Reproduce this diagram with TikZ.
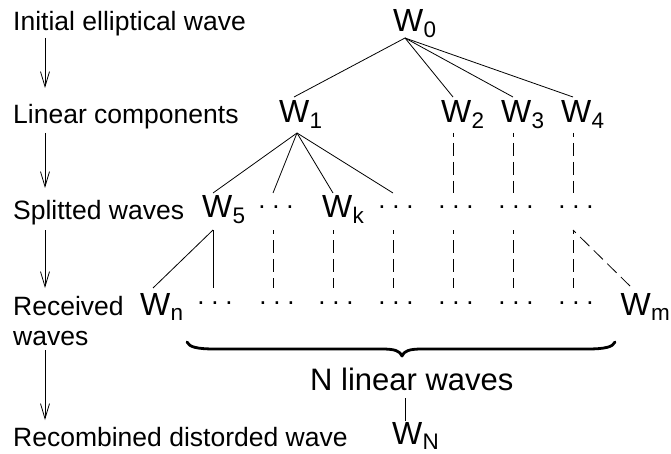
\documentclass[tikz,border=0pt]{standalone}
\usepackage{fontspec}
\setmainfont{Liberation Sans}
\usetikzlibrary{arrows.meta}
\newcommand\Wlab[1]{W\kern0.3pt\raisebox{-5.5pt}{\fontsize{22.5}{22.5}\selectfont #1}}
\newcommand\threedots{.\kern6.8pt.\kern6.8pt.}
\begin{document}
\begin{tikzpicture}[x=1pt,y=-1pt,
  side/.style={font=\fontsize{26.5}{30}\selectfont, anchor=base west, inner sep=0pt},
  wl/.style={font=\fontsize{32}{32}\selectfont, anchor=base west, inner sep=0pt},
  nl/.style={font=\fontsize{31}{31}\selectfont, anchor=base west, inner sep=0pt},
  dts/.style={font=\fontsize{26}{26}\selectfont, anchor=base, inner sep=0pt},
  ln/.style={line width=0.8pt},
  dl/.style={line width=0.8pt, dash pattern=on 13pt off 6pt, dash phase=9pt},
  flow/.style={line width=0.8pt, -{Straight Barb[length=15pt,width=9pt]}},
  bracestyle/.style={line width=2.8pt, line cap=round, line join=round}]
\useasboundingbox (0,0) rectangle (671,454);
% side labels
\node[side] (s1) at (13,31) {Initial elliptical wave};
\node[side] (s2) at (13,124) {Linear components};
\node[side] (s3) at (13,219) {Splitted waves};
\node[side] (s4) at (13,315) {Received};
\node[side] (s4b) at (13,345) {waves};
\node[side] (s5) at (13,446) {Recombined distorded wave};
\coordinate (a1t) at (45,38);  \coordinate (a1b) at (45,88);
\coordinate (a2t) at (45,133); \coordinate (a2b) at (45,188);
\coordinate (a3t) at (45,230); \coordinate (a3b) at (45,288);
\coordinate (a4t) at (45,350); \coordinate (a4b) at (45,420);
\draw[flow] (a1t) -- (a1b);
\draw[flow] (a2t) -- (a2b);
\draw[flow] (a3t) -- (a3b);
\draw[flow] (a4t) -- (a4b);
% W nodes
\node[wl] (w0) at (393,32) {\Wlab{0}};
\node[wl] (w1) at (279,123) {\Wlab{1}};
\node[wl] (w2) at (441,123) {\Wlab{2}};
\node[wl] (w3) at (501,123) {\Wlab{3}};
\node[wl] (w4) at (561,123) {\Wlab{4}};
\node[wl] (w5) at (202,218) {\Wlab{5}};
\node[wl] (wk) at (322,218) {\Wlab{k}};
\node[wl] (wn) at (140,315) {\Wlab{n}};
\node[wl] (wm) at (620.5,315) {\Wlab{m}};
\node[wl] (wN) at (392,444) {\Wlab{N}};
% dots row 3
\node[dts] (d31) at (276,208.5) {\threedots};
\node[dts] (d32) at (396,208.5) {\threedots};
\node[dts] (d33) at (456,208.5) {\threedots};
\node[dts] (d34) at (516,208.5) {\threedots};
\node[dts] (d35) at (576,208.5) {\threedots};
% dots row 4
\node[dts] (d41) at (215,304.5) {\threedots};
\node[dts] (d42) at (277,304.5) {\threedots};
\node[dts] (d43) at (336,304.5) {\threedots};
\node[dts] (d44) at (396,304.5) {\threedots};
\node[dts] (d45) at (456,304.5) {\threedots};
\node[dts] (d46) at (516,304.5) {\threedots};
\node[dts] (d47) at (576,304.5) {\threedots};
% junction coordinates
\coordinate (w0b) at (405,38);
\coordinate (w1t) at (294,97);  \coordinate (w1b) at (297,133);
\coordinate (w2t) at (453,97);  \coordinate (w2b) at (453,133);
\coordinate (w3t) at (513,97);  \coordinate (w3b) at (513,133);
\coordinate (w4t) at (573,97);  \coordinate (w4b) at (573,133);
\coordinate (w5t) at (213,193); \coordinate (w5b) at (213,230);
\coordinate (d31t) at (273,193); \coordinate (d31b) at (273,230);
\coordinate (wkt) at (333,193); \coordinate (wkb) at (333,230);
\coordinate (d32t) at (393,193); \coordinate (d32b) at (393,230);
\coordinate (d33t) at (453,193); \coordinate (d33b) at (453,230);
\coordinate (d34t) at (513,193); \coordinate (d34b) at (513,230);
\coordinate (d35t) at (573,193); \coordinate (d35b) at (573,230);
\coordinate (wnt) at (153,288);
\coordinate (d41t) at (213,288);
\coordinate (d42t) at (273,288);
\coordinate (d43t) at (333,288);
\coordinate (d44t) at (393,288);
\coordinate (d45t) at (453,288);
\coordinate (d46t) at (513,288);
\coordinate (d47t) at (573,288);
\coordinate (wmt) at (632,288);
% row 1 -> row 2
\draw[ln] (w0b) -- (w1t);
\draw[ln] (w0b) -- (w2t);
\draw[ln] (w0b) -- (w3t);
\draw[ln] (w0b) -- (w4t);
% row 2 -> row 3
\draw[ln] (w1b) -- (w5t);
\draw[ln] (w1b) -- (d31t);
\draw[ln] (w1b) -- (wkt);
\draw[ln] (w1b) -- (d32t);
\draw[dl] (w2b) -- (d33t);
\draw[dl] (w3b) -- (d34t);
\draw[dl] (w4b) -- (d35t);
% row 3 -> row 4
\draw[ln] (w5b) -- (wnt);
\draw[ln] (w5b) -- (d41t);
\draw[dl] (d31b) -- (d42t);
\draw[dl] (wkb) -- (d43t);
\draw[dl] (d32b) -- (d44t);
\draw[dl] (d33b) -- (d45t);
\draw[dl] (d34b) -- (d46t);
\draw[dl] (d35b) -- (d47t);
\draw[dl] (d35b) -- (wmt);
% brace (tip pointing down)
\coordinate (brl) at (187,342);
\coordinate (brtip) at (402,356);
\coordinate (brr) at (615,342);
\draw[bracestyle] (brl) .. controls (189,347) and (197,349) .. (215,349)
  -- (382,349) .. controls (395,349) and (400,351) .. (brtip)
  .. controls (404,351) and (409,349) .. (422,349)
  -- (587,349) .. controls (605,349) and (613,347) .. (brr);
\node[nl] (nlw) at (310,390) {N linear waves};
\coordinate (nlwb) at (405,398);
\coordinate (wNt) at (405,421);
\draw[ln] (nlwb) -- (wNt);
\end{tikzpicture}
\end{document}
